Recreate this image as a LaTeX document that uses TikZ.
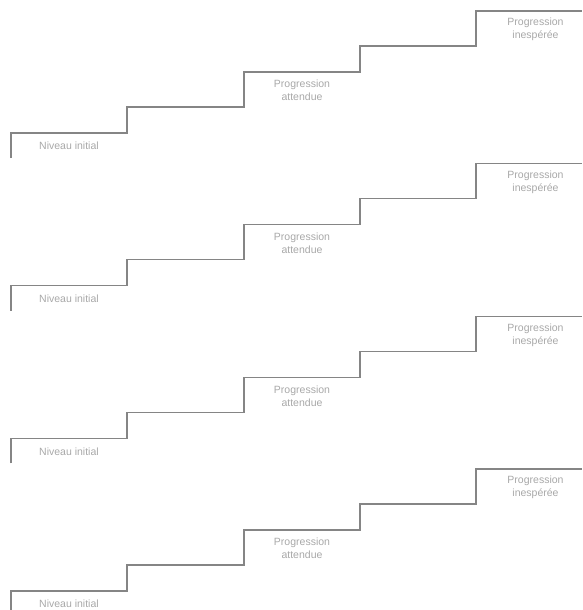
\documentclass[tikz,border=0pt]{standalone}
\usepackage{fontspec}
\setmainfont{Liberation Sans}
\definecolor{stairgray}{HTML}{858585}
\definecolor{labelgray}{HTML}{A8A8A8}
\tikzset{
    stair/.style={draw=stairgray,line width=1.3pt},
    lbl/.style={text=labelgray,align=center,inner sep=0pt,font=\fontsize{10.5}{13}\selectfont}
}
\begin{document}
\begin{tikzpicture}[x=1pt,y=-1pt]
    \useasboundingbox (0,0) rectangle (582,610);
    \foreach \k in {0,...,3} {
        \begin{scope}[yshift=-152.7*\k pt]
            \coordinate (A) at (11, 158);
            \coordinate (B) at (11, 133);
            \coordinate (C) at (127, 133);
            \coordinate (D) at (127, 107);
            \coordinate (E) at (244, 107);
            \coordinate (F) at (244, 72);
            \coordinate (G) at (360, 72);
            \coordinate (H) at (360, 46);
            \coordinate (I) at (476, 46);
            \coordinate (J) at (476, 11);
            \coordinate (K) at (582, 11);
            \node[lbl] (init) at (69, 146) {Niveau initial};
            \node[lbl] (att) at (302, 90.5) {Progression\\attendue};
            \node[lbl] (inesp) at (535.5, 29.5) {Progression\\inespérée};

            \draw[stair] (A) -- (B) -- (C) -- (D) -- (E) -- (F) -- (G) -- (H) -- (I) -- (J) -- (K);
        \end{scope}
    }
\end{tikzpicture}
\end{document}
